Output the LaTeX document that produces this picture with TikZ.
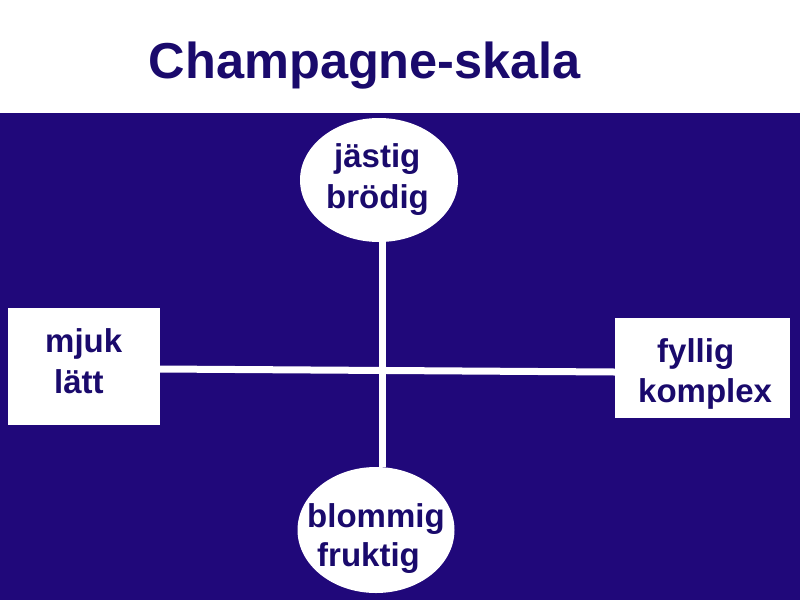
\documentclass[tikz,border=0pt]{standalone}
\usepackage{fontspec}
\setmainfont{Liberation Sans}
\usetikzlibrary{shapes.geometric}
\definecolor{bgblue}{RGB}{32,8,122}
\definecolor{txtblue}{RGB}{26,10,108}
\tikzset{
  pole/.style={draw=none,fill=white,ellipse,inner sep=0pt},
  box/.style={draw=none,fill=white,rectangle,inner sep=0pt},
  word/.style={anchor=base west,inner sep=0pt,text=txtblue,font=\fontsize{33}{38}\selectfont\bfseries},
  axis/.style={draw=white,line width=7pt}
}
\begin{document}
\begin{tikzpicture}[x=1pt,y=-1pt]
\useasboundingbox (0,0) rectangle (800,600);
\fill[white] (0,0) rectangle (800,113);
\fill[bgblue] (0,113) rectangle (800,600);
\node[anchor=base,inner sep=0pt,text=txtblue,font=\fontsize{50.5}{56}\selectfont\bfseries] (title) at (365,78) {Champagne-skala};
% shapes
\node[pole,minimum width=158pt,minimum height=124pt] (T) at (379,180) {};
\node[pole,minimum width=157pt,minimum height=126pt] (B) at (376,530) {};
\node[box,minimum width=152pt,minimum height=117pt] (L) at (84,366.5) {};
\node[box,minimum width=175pt,minimum height=100pt] (R) at (702.5,368) {};
% axes
\draw[axis] ([yshift=-2.5pt]L.east) -- ([yshift=-4pt]R.west);
\draw[axis] ([xshift=3pt]T.south) -- ([xshift=6pt]B.north);
% texts
\node[word] (t1) at (334,167) {jästig};
\node[word] (t2) at (326,208) {brödig};
\node[word] (b1) at (307,527) {blommig};
\node[word] (b2) at (317,566) {fruktig};
\node[word] (l1) at (45,352) {mjuk};
\node[word] (l2) at (54,393) {lätt};
\node[word] (r1) at (657,362) {fyllig};
\node[word] (r2) at (638,402) {komplex};
\end{tikzpicture}
\end{document}
